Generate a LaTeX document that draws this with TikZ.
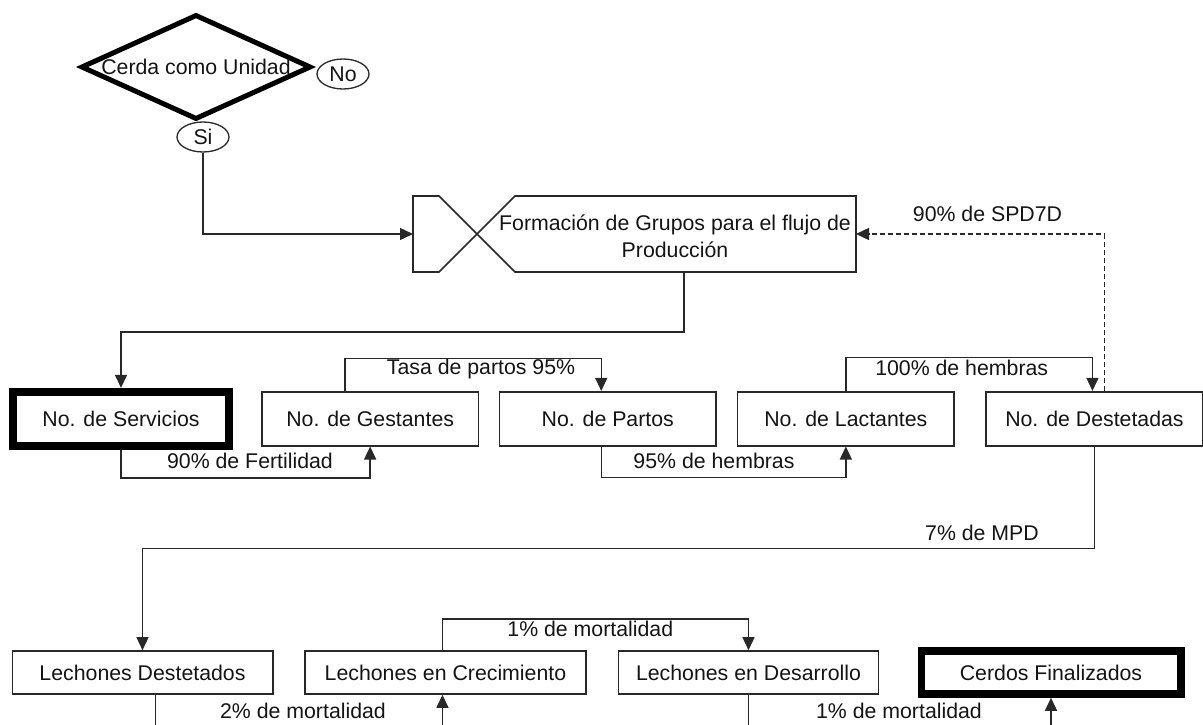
\documentclass[tikz,border=0pt]{standalone}
\usepackage{fontspec}
\setmainfont{Liberation Sans}
\usetikzlibrary{arrows.meta,positioning,shapes.geometric}
\definecolor{lnGray}{RGB}{40,40,40}
\definecolor{txBlack}{RGB}{20,20,20}

\begin{document}
\begin{tikzpicture}[x=1pt,y=-1pt,font=\fontsize{21.3}{26.5}\selectfont,text=txBlack,
  b/.style={draw=lnGray,line width=1.6pt,minimum height=54pt,minimum width=216.5pt,inner sep=0pt},
  bb/.style={b,draw=black,line width=7.7pt},
  l/.style={draw=lnGray,line width=1.6pt,minimum height=43pt,inner sep=0pt},
  lb/.style={l,draw=black,line width=7.5pt},
  e/.style={ellipse,draw=lnGray,line width=1.3pt,minimum width=52pt,minimum height=30pt,inner sep=0pt},
  t/.style={inner sep=0pt,text height=0.72em,text depth=0pt},
  a/.style={-{Triangle[length=13pt,width=12pt]},line width=1.4pt,lnGray}]
  \useasboundingbox (0,0) rectangle (1203,725);
  \clip (0,0) rectangle (1203,725);
  % decision
  \node[diamond,draw=black,line width=5pt,minimum width=230pt,minimum height=105pt,aspect=2.2,inner sep=0pt] (cu) at (196,67) {Cerda como Unidad};
  \node[e] (no) at (343,74) {No};
  \node[e] (si) at (203,137) {Si};
  % grupos
  \node[minimum width=443pt,minimum height=76pt,inner sep=0pt,outer sep=0pt] (gr) at (634.5,234) {};
  \draw[lnGray,line width=1.6pt] ([xshift=26pt]gr.north west) -- (gr.north west) -- (gr.south west) -- ++(26,0) -- ++(76,-76) -- (gr.north east) -- (gr.south east) -- ++(-341,0) -- cycle;
  \node[align=center,inner sep=0pt] (grt) at (675,236.5) {Formación de Grupos para el flujo de\\Producción};
  % fila de cerdas
  \node[bb] (serv) at (121,418.7) {No. de Servicios};
  \node[b,right=28pt of serv] (gest) {No. de Gestantes};
  \node[b,right=19.5pt of gest] (part) {No. de Partos};
  \node[b,right=20pt of part] (lact) {No. de Lactantes};
  \node[b,right=30.5pt of lact] (dest) {No. de Destetadas};
  % fila de lechones
  \node[l,minimum width=260.4pt] (lech) at (142.5,672.5) {Lechones Destetados};
  \node[l,minimum width=280.7pt,right=30.8pt of lech] (crec) {Lechones en Crecimiento};
  \node[l,minimum width=260pt,right=31.1pt of crec] (desa) {Lechones en Desarrollo};
  \node[lb,minimum width=259.5pt,right=38.2pt of desa] (cerd) {Cerdos Finalizados};
  % flechas
  \draw[a] (si.south) |- (gr.west);
  \draw[a] ([xshift=49.5pt]gr.south) -- ++(0,60) -| (serv.north);
  \draw[a,dash pattern=on 5pt off 3pt] ([xshift=10pt]dest.north) |- (gr.east);
  \draw[a] (serv.south) -- ++(0,28.5) -| (gest.south);
  \draw[a] ([xshift=-25pt]gest.north) -- ++(0,-32.6) -| ([xshift=-6.5pt]part.north);
  \draw[a] ([xshift=-6.5pt]part.south) -- ++(0,31.2) -| (lact.south);
  \draw[a] (lact.north) -- ++(0,-33.2) -| ([xshift=-2pt]dest.north);
  \draw[a] (dest.south) -- ++(0,101.8) -| (lech.north);
  \draw[a] ([xshift=-3pt]crec.north) -- ++(0,-31.2) -| (desa.north);
  \draw[a] ([xshift=13pt]lech.south) -- ++(0,40) -| ([xshift=-3pt]crec.south);
  \draw[a] (desa.south) -- ++(0,40) -| (cerd.south);
  % etiquetas
  \node[t] (lfer) at (250,465) {90\% de Fertilidad};
  \node[t] (ltas) at (481,370.7) {Tasa de partos 95\%};
  \node[t] (lh95) at (714,465) {95\% de hembras};
  \node[t] (lh100) at (961.7,371.7) {100\% de hembras};
  \node[t] (lspd) at (987.5,218) {90\% de SPD7D};
  \node[t] (lmpd) at (982,536.7) {7\% de MPD};
  \node[t] (lm1) at (590.3,633.3) {1\% de mortalidad};
  \node[t] (lm2) at (303,715) {2\% de mortalidad};
  \node[t] (lm3) at (899,715) {1\% de mortalidad};
\end{tikzpicture}
\end{document}
